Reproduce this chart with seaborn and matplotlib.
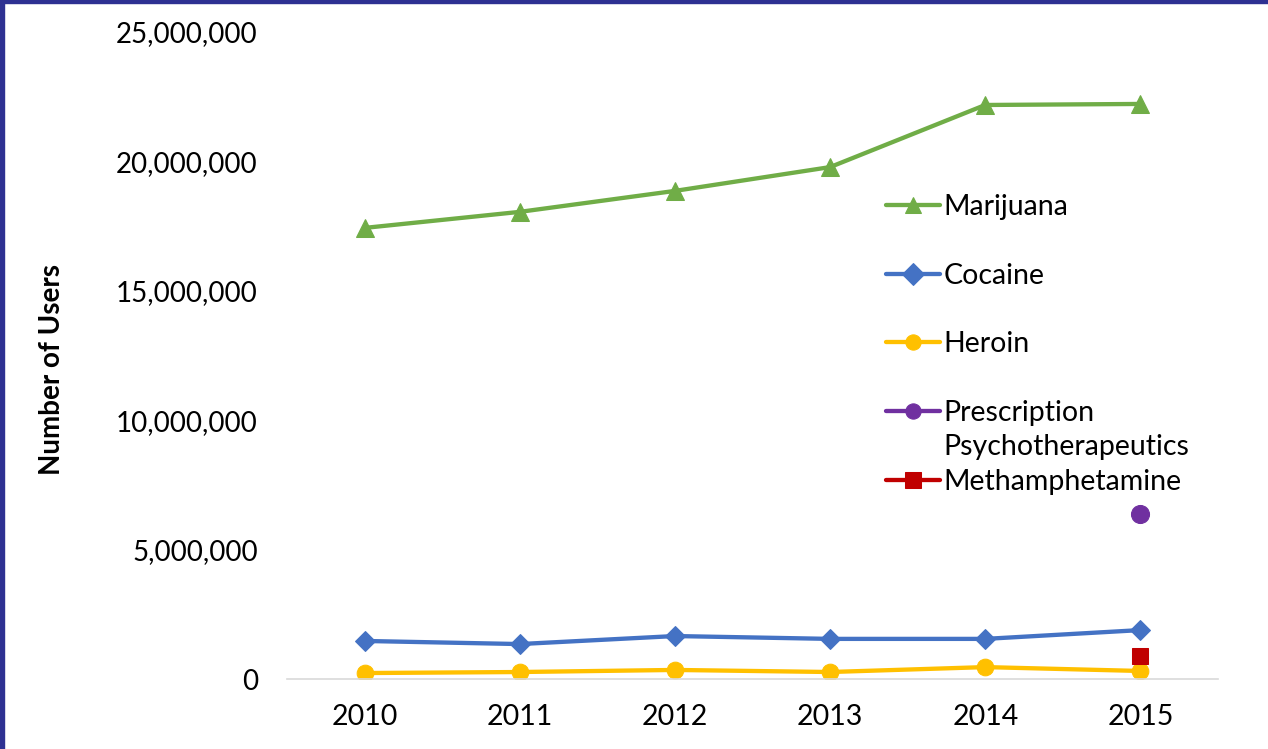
import matplotlib
matplotlib.use("Agg")
import matplotlib.pyplot as plt
import seaborn as sns
import pandas as pd
from matplotlib.patches import Rectangle

years = [2010, 2011, 2012, 2013, 2014, 2015]
marijuana = [17.43e6, 18.05e6, 18.86e6, 19.78e6, 22.18e6, 22.22e6]
cocaine = [1.47e6, 1.35e6, 1.66e6, 1.55e6, 1.55e6, 1.89e6]
heroin = [0.23e6, 0.27e6, 0.35e6, 0.27e6, 0.46e6, 0.31e6]
prescription_years = [2015]
prescription = [6.38e6]
meth_years = [2015]
meth = [0.89e6]
y_ticks = [0, 5e6, 10e6, 15e6, 20e6, 25e6]

sns.set_theme(style="white")
plt.rcParams['font.family'] = ['Lato', 'DejaVu Sans']
plt.rcParams['text.color'] = '#000000'

W, H = 1268, 749
fig = plt.figure(figsize=(W/100, H/100), dpi=100)
ax = fig.add_axes([287/W, 1-679/H, (1218-287)/W, (679-32)/H])

series = [
    ("Marijuana", years, marijuana, "#70AD47", "^", 13),
    ("Cocaine", years, cocaine, "#4472C4", "D", 10),
    ("Heroin", years, heroin, "#FFC000", "o", 12),
    ("Prescription", prescription_years, prescription, "#7030A0", "o", 13),
    ("Methamphetamine", meth_years, meth, "#C00000", "s", 11),
]
for name, xs, ys, col, mk, ms in series:
    df = pd.DataFrame({"year": xs, "users": ys})
    sns.lineplot(data=df, x="year", y="users", ax=ax, color=col, marker=mk,
                 markersize=ms, markeredgecolor=col, linewidth=3.1,
                 errorbar=None, label=name)

ax.set_xlim(2009.5, 2015.5)
ax.set_ylim(0, 25e6)
ax.set_xticks(years)
ax.set_xticklabels([str(y) for y in years])
ax.set_yticks(y_ticks)
ax.set_yticklabels([f"{int(v):,}" for v in y_ticks])
ax.tick_params(axis='x', length=0, pad=18, labelsize=20.5, labelcolor="#000000")
ax.tick_params(axis='y', length=0, pad=21, labelsize=20, labelcolor="#000000")
for s in ['top', 'right', 'left']:
    ax.spines[s].set_visible(False)
ax.spines['bottom'].set_color("#D9D9D9")
ax.spines['bottom'].set_linewidth(1.2)
ax.set_xlabel("")
ax.set_ylabel("Number of Users", fontsize=20, fontweight='bold', color="#000000")
ax.yaxis.set_label_coords(-0.2385, 0.478)

leg = ax.legend(loc='upper left', bbox_to_anchor=(886/W, 1-194/H),
                bbox_transform=fig.transFigure, frameon=False, fontsize=20.5,
                borderpad=0, borderaxespad=0, labelspacing=1.5,
                handlelength=1.9, handletextpad=0.12, labelcolor="#000000")
for h in leg.legend_handles:
    h.set_markersize(11)

fig.canvas.draw()
bb = leg.get_texts()[3].get_window_extent()
fig.text(bb.x0/W, (bb.y0 - 8)/H, "Psychotherapeutics", fontsize=20.5,
         color="#000000", va='top', ha='left')

navy = "#2E3192"
fig.add_artist(Rectangle((0, 1-3/H), 1, 3/H, transform=fig.transFigure,
                         color=navy, zorder=10))
fig.add_artist(Rectangle((0, 0), 4/W, 1, transform=fig.transFigure,
                         color=navy, zorder=10))

fig.savefig("out.png", dpi=100)
